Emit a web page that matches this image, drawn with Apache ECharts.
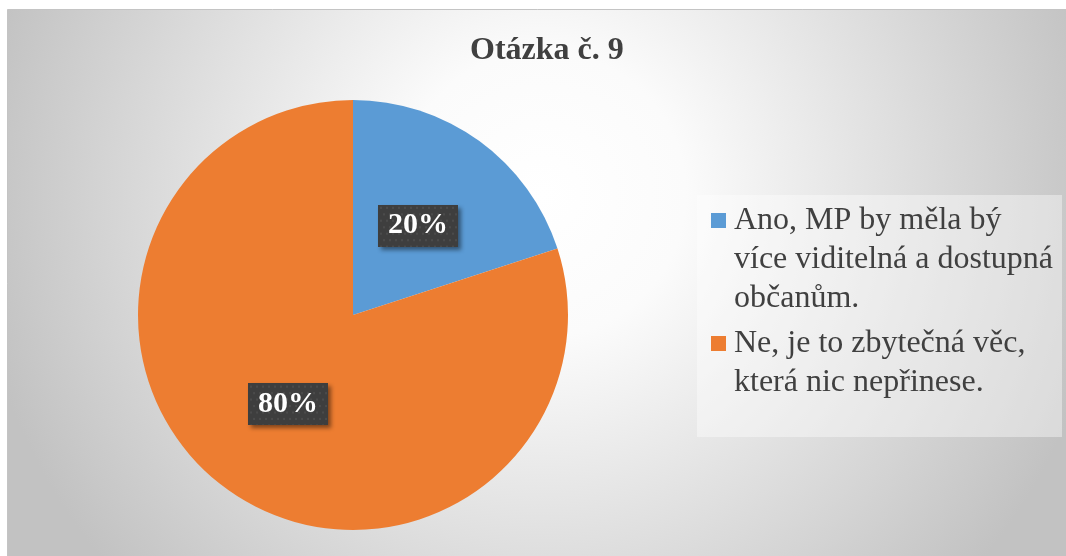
<!DOCTYPE html>
<html>
<head>
<meta charset="utf-8">
<style>
html,body{margin:0;padding:0;background:#ffffff;}
#chart{width:1066px;height:556px;}
</style>
<script src="https://cdn.jsdelivr.net/npm/echarts@6/dist/echarts.min.js"></script>
</head>
<body>
<div id="chart"></div>
<script>
const titleText = 'Otázka č. 9';
const categories = [
  'Ano, MP by měla bý více viditelná a dostupná občanům.',
  'Ne, je to zbytečná věc, která nic nepřinese.'
];
const legendLines = [
  ['Ano, MP by měla bý', 'více viditelná a dostupná', 'občanům.'],
  ['Ne, je to zbytečná věc,', 'která nic nepřinese.']
];
const values = [20, 80];
const colors = ['#5B9BD5', '#ED7D31'];

function makePattern(w, h) {
  const c = document.createElement('canvas');
  c.width = w; c.height = h;
  const g = c.getContext('2d');
  g.fillStyle = '#3e3e3e';
  g.fillRect(0, 0, w, h);
  g.fillStyle = '#4b4b4b';
  for (let y = 2; y < h; y += 6) {
    for (let x = (y % 12 === 2 ? 2 : 5); x < w; x += 6) {
      g.fillRect(x, y, 2, 2);
    }
  }
  return c;
}
const pattern = makePattern(80, 39);

const serif = "'Liberation Serif', 'Times New Roman', serif";
const LH = 39;

function iconPath(h) {
  return 'path://M0,0L0.01,0L0,0.01Z M0,12L15,12L15,27L0,27Z M0,' + h + 'L0.01,' + h + 'L0,' + (h - 0.01) + 'Z';
}

function legendFor(i, top) {
  const h = legendLines[i].length * LH;
  return {
    orient: 'vertical',
    left: 711,
    top: top,
    padding: 0,
    itemWidth: 15,
    itemHeight: h,
    selectedMode: false,
    data: [{ name: categories[i], icon: iconPath(h) }],
    formatter: function () { return legendLines[i].join('\n'); },
    textStyle: {
      fontFamily: serif,
      fontSize: 32,
      lineHeight: LH,
      color: '#404040',
      padding: [0, 0, 0, 3]
    }
  };
}

const chart = echarts.init(document.getElementById('chart'), null, { renderer: 'canvas' });
chart.setOption({
  animation: false,
  color: colors,
  title: {
    text: titleText,
    left: 465,
    top: 30,
    textStyle: { fontFamily: serif, fontSize: 32, fontWeight: 'bold', color: '#404040' }
  },
  graphic: [
    {
      type: 'rect',
      z: -10,
      shape: { x: 7.5, y: 9.5, width: 1070, height: 560 },
      style: {
        fill: {
          type: 'radial', x: 0.5, y: 0.33, r: 1.02,
          colorStops: [
            { offset: 0, color: '#ffffff' },
            { offset: 0.25, color: '#fbfbfb' },
            { offset: 1, color: '#c2c2c2' }
          ]
        },
        stroke: '#c4c4c4',
        lineWidth: 1
      }
    },
    {
      type: 'rect',
      z: 1,
      shape: { x: 697, y: 195, width: 365, height: 242 },
      style: { fill: 'rgba(255,255,255,0.4)' }
    }
  ],
  legend: [legendFor(0, 201), legendFor(1, 324)],
  series: [{
    type: 'pie',
    center: [353, 315],
    radius: 215,
    startAngle: 90,
    clockwise: true,
    percentPrecision: 0,
    silent: true,
    label: {
      show: true,
      position: 'inside',
      formatter: '{d}%',
      fontFamily: serif,
      fontWeight: 'bold',
      fontSize: 30,
      color: '#ffffff',
      backgroundColor: { image: pattern },
      padding: [7, 10, 5, 10],
      shadowColor: 'rgba(0,0,0,0.45)',
      shadowBlur: 4,
      shadowOffsetX: 3,
      shadowOffsetY: 3
    },
    labelLine: { show: false },
    itemStyle: { borderWidth: 0 },
    data: categories.map((c, i) => ({ name: c, value: values[i] }))
  }]
});
</script>
</body>
</html>
